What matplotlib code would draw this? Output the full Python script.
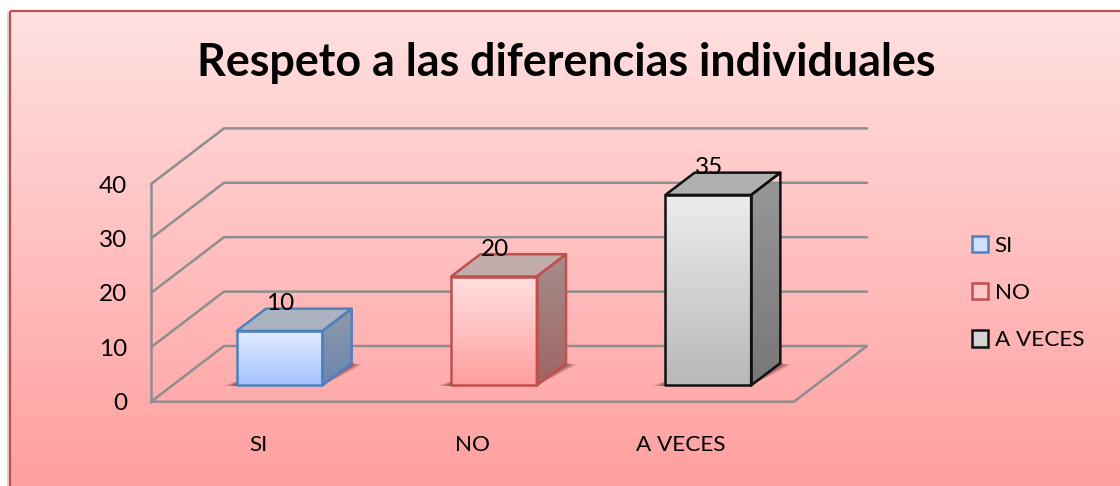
import numpy as np
import matplotlib
matplotlib.use("Agg")
import matplotlib.pyplot as plt
from matplotlib.patches import Polygon, Rectangle, Patch
from matplotlib.transforms import ScaledTranslation

# ---- data ----
categories = ["SI", "NO", "A VECES"]
values = [10, 20, 35]
y_ticks = [0, 10, 20, 30, 40]
title = "Respeto a las diferencias individuales"

# ---- style ----
W, H = 1120, 486
plt.rcParams["font.family"] = ["Lato", "DejaVu Sans"]
front_cols = [("#E2EDFF", "#A3C3FF"), ("#FFE0E0", "#FF9F9F"), ("#EDEDED", "#B8B8B8")]
side_cols = [("#8E9AA8", "#6A85B2"), ("#A58E8C", "#A06464"), ("#989898", "#777777")]
top_cols = ["#ABB3C0", "#C2ABAB", "#B0B0B0"]
edge_cols = ["#4F81BD", "#C0504D", "#111111"]
legend_cols = ["#CFE0FF", "#FFC8C8", "#D4D4D4"]
grid_col = "#8E8E8E"
lw = 1.8
fs_text = 16.2
fs_num = 17.5


def ramp(c0, c1, n=256):
    a = np.array(matplotlib.colors.to_rgb(c0))
    b = np.array(matplotlib.colors.to_rgb(c1))
    t = np.linspace(0, 1, n)[:, None, None]
    return a[None, None, :] * (1 - t) + b[None, None, :] * t


fig = plt.figure(figsize=(W / 100, H / 100), dpi=100, facecolor="white")

# panel background with vertical gradient and border
bg = fig.add_axes([0, 0, 1, 1], zorder=0)
bg.set_xlim(0, W)
bg.set_ylim(H, 0)
bg.axis("off")
panel = Rectangle((10, 11), W + 20, H + 20, fc="none", ec="#C0504D", lw=1.6, zorder=3)
bg.add_patch(Rectangle((7, 12), 4, H, fc="#D8D8D8", ec="none", zorder=1))
im = bg.imshow(ramp("#FFE1E1", "#FF9F9F"), extent=(10, W + 10, H, 11),
               aspect="auto", zorder=2)
bg.add_patch(panel)
bg.set_xlim(0, W)
bg.set_ylim(H, 0)

# chart axes: data coordinates map straight onto the front plane of the 3-D box
ax = fig.add_axes([151 / W, (H - 401.7) / H, 643 / W, 217.6 / H], zorder=1)
ax.patch.set_alpha(0)
ax.set_xlim(0, 3)
ax.set_ylim(0, 40)
for s in ax.spines.values():
    s.set_visible(False)
DX, DY = 0.3406, 10.24          # oblique offset of unit depth, in data units


def P(x, y, d=0.0):
    return (x + DX * d, y + DY * d)


def seg(points, **kw):
    xs, ys = zip(*points)
    ax.plot(xs, ys, color=grid_col, lw=lw, clip_on=False, solid_capstyle="round",
            solid_joinstyle="miter", zorder=2, **kw)


for v in y_ticks:
    seg([P(0, v, 0), P(0, v, 1), P(3, v, 1)])
seg([P(0, 0, 0), P(0, y_ticks[-1], 0)])
seg([P(0, 0, 0), P(3, 0, 0), P(3, 0, 1)])


def gradient_face(pts, cols, z):
    poly = Polygon(pts, closed=True, fc="none", ec="none", transform=ax.transData)
    ax.add_patch(poly)
    xs, ys = zip(*pts)
    img = ax.imshow(ramp(*cols), extent=(min(xs), max(xs), min(ys), max(ys)),
                    origin="upper", aspect="auto", zorder=z, clip_on=True)
    img.set_clip_path(poly)


bar_w, d0, d1 = 0.4, 0.294, 0.694
for i, v in enumerate(values):
    x0, x1 = i + 0.5 - bar_w / 2, i + 0.5 + bar_w / 2
    # soft floor shadow
    for m, a in [(0.06, 0.16), (0.045, 0.22), (0.03, 0.28), (0.015, 0.3)]:
        ax.add_patch(Polygon([P(x0 - m, 0, d0 - 0.01), P(x1, 0, d0 - 0.01),
                              P(x1 + m, 0, d1 - 0.03), P(x1, 0, d1),
                              P(x0, 0, d0 + 0.14)],
                             fc="#5A2A2A", ec="none", alpha=a, zorder=3, clip_on=False))
    front = [P(x0, 0, d0), P(x1, 0, d0), P(x1, v, d0), P(x0, v, d0)]
    side = [P(x1, 0, d0), P(x1, 0, d1), P(x1, v, d1), P(x1, v, d0)]
    top = [P(x0, v, d0), P(x1, v, d0), P(x1, v, d1), P(x0, v, d1)]
    gradient_face(side, side_cols[i], 4)
    ax.add_patch(Polygon(top, fc=top_cols[i], ec="none", zorder=4, clip_on=False))
    gradient_face(front, front_cols[i], 5)
    for face in (side, top, front):
        ax.add_patch(Polygon(face, fc="none", ec=edge_cols[i], lw=lw, zorder=6,
                             joinstyle="round", clip_on=False))
    ax.annotate(str(v), xy=P(i + 0.5, v, d0), xytext=(0.5, 19.5),
                textcoords="offset points", ha="center", va="center",
                fontsize=fs_num, color="black", zorder=7, annotation_clip=False)

ax.set_xlim(0, 3)
ax.set_ylim(0, 40)
ax.set_aspect("auto")

ax.set_yticks(y_ticks)
ax.set_xticks([i + 0.5 for i in range(len(categories))])
ax.set_xticklabels(categories)
ax.tick_params(axis="x", length=0, labelsize=fs_text, labelcolor="black", pad=24)
ax.tick_params(axis="y", length=0, labelsize=fs_num, labelcolor="black", pad=17)
# the third category label sits a little left of its slot in the reference
last = ax.get_xticklabels()[-1]
last.set_transform(last.get_transform() + ScaledTranslation(-4.5 / 72, 0, fig.dpi_scale_trans))

handles = [Patch(fc=c, ec=e, lw=lw, label=n) for c, e, n in zip(legend_cols, edge_cols, categories)]
fig.legend(handles=handles, loc="center left", bbox_to_anchor=(972 / W, 1 - 293 / H),
           frameon=False, fontsize=fs_text, handlelength=0.73, handleheight=0.73,
           handletextpad=0.28, labelspacing=1.22, borderpad=0, borderaxespad=0)

fig.text(566 / W, 1 - 63 / H, title, ha="center", va="center", fontsize=32.3,
         fontweight="bold", color="black")

fig.savefig("out.png", dpi=100)
